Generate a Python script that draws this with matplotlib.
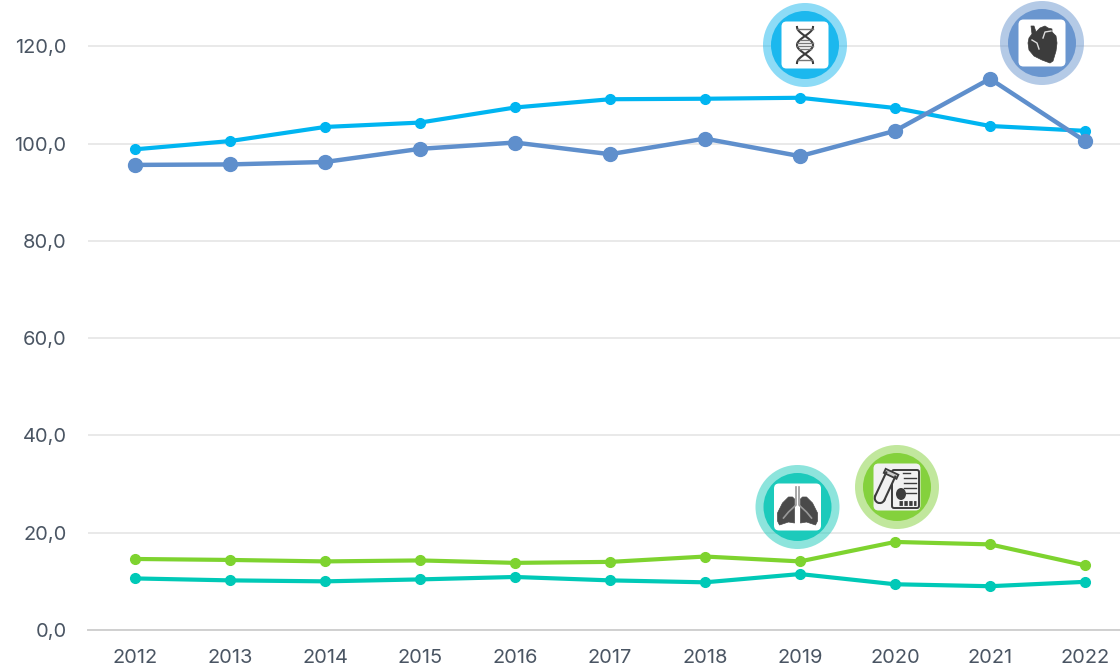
import numpy as np
from matplotlib import pyplot as plt
from matplotlib.patches import Circle, FancyBboxPatch, Polygon, Rectangle, Ellipse
from matplotlib.transforms import Affine2D

plt.rcParams['font.family'] = ['Inter', 'DejaVu Sans']

years = [2012, 2013, 2014, 2015, 2016, 2017, 2018, 2019, 2020, 2021, 2022]
heart = [95.6, 95.7, 96.2, 98.9, 100.2, 97.8, 101.0, 97.4, 102.6, 113.3, 100.5]
cancer = [98.8, 100.5, 103.4, 104.3, 107.4, 109.1, 109.2, 109.4, 107.3, 103.6, 102.6]
diabetes = [14.6, 14.4, 14.1, 14.3, 13.8, 14.0, 15.1, 14.1, 18.1, 17.6, 13.3]
lungs = [10.6, 10.2, 10.0, 10.4, 10.9, 10.2, 9.8, 11.5, 9.4, 9.0, 9.9]
y_ticks = [0, 20, 40, 60, 80, 100, 120]
y_labels = ['0,0', '20,0', '40,0', '60,0', '80,0', '100,0', '120,0']

text_col = '#4a5563'
dark = '#3c3c3c'

fig = plt.figure(figsize=(11.2, 6.7), dpi=100)
ax = fig.add_axes([87.5 / 1120, 40 / 670, 1 - 87.5 / 1120, 630 / 670])

ax.plot(years, cancer, color='#00b5f1', lw=3, marker='o', ms=7, zorder=3)
ax.plot(years, heart, color='#5f8fcc', lw=3.2, marker='o', ms=10, zorder=4)
ax.plot(years, diabetes, color='#7ed32f', lw=3, marker='o', ms=7, zorder=3)
ax.plot(years, lungs, color='#00c9b7', lw=3, marker='o', ms=7, zorder=3)

ax.set_xlim(2012 - 47.5 / 95, 2022 + 35 / 95)
ax.set_ylim(0, 630 / 4.865)
ax.set_xticks(years)
ax.set_yticks(y_ticks)
ax.set_yticklabels(y_labels)
ax.tick_params(length=0, labelsize=14.4, labelcolor=text_col)
ax.tick_params(axis='x', pad=14)
ax.tick_params(axis='y', pad=15)
ax.grid(axis='y', color='#e9e9e9', lw=1.4)
ax.set_axisbelow(True)
for s in ['top', 'right', 'left']:
    ax.spines[s].set_visible(False)
ax.spines['bottom'].set_color('#d0d0d0')
ax.spines['bottom'].set_linewidth(1.4)

# icons sit on a second axes in pixel coords
ic = fig.add_axes([0, 0, 1, 1], zorder=5)
ic.set_xlim(0, 1120)
ic.set_ylim(670, 0)
ic.axis('off')


def badge(cx, cy, col, box='white'):
    ic.add_patch(Circle((cx, cy), 42, fc=col, alpha=0.5, lw=0))
    ic.add_patch(Circle((cx, cy), 34, fc=col, lw=0))
    ic.add_patch(FancyBboxPatch((cx - 20, cy - 20), 40, 40, boxstyle='round,pad=3.5,rounding_size=5',
                                fc=box, lw=0))


def dna(cx, cy):
    t = np.linspace(-18, 18, 60)
    a = 8 * np.sin(t * np.pi / 18 + np.pi / 2)
    ic.plot(cx + a, cy + t, color=dark, lw=1.5)
    ic.plot(cx - a, cy + t, color=dark, lw=1.5)
    for r in [-16, -5, -2, 1, 4, 15]:
        w = abs(8 * np.sin(r * np.pi / 18 + np.pi / 2))
        ic.plot([cx - w, cx + w], [cy + r, cy + r], color='#777777', lw=1)


def heart_icon(cx, cy):
    pts = [(-11, -17), (-8, -17), (-6, -11), (-2, -15), (3, -17), (6, -15), (10, -14), (10, -11),
           (14, -7), (15, 0), (14, 8), (11, 18), (8, 20), (0, 17), (-8, 13), (-13, 7), (-14, 0),
           (-13, -5), (-10, -9)]
    ic.add_patch(Polygon([(cx + x, cy + y) for x, y in pts], fc=dark, lw=0.5, ec=dark, joinstyle='round'))
    ic.plot([cx - 10, cx - 5, cx - 3], [cy - 3, cy, cy + 6], color='#dddddd', lw=1)
    ic.plot([cx + 1, cx + 3, cx + 9], [cy - 5, cy - 11, cy - 12], color='#dddddd', lw=1)


def lungs_icon(cx, cy):
    left = [(-3, -8), (-3, 16), (-9, 15), (-18, 18), (-20, 14), (-20, 6), (-15, -4), (-9, -10), (-5, -10)]
    ic.add_patch(Polygon([(cx + x, cy + y) for x, y in left], fc='#4a4a4a', lw=0.5, ec='#4a4a4a', joinstyle='round'))
    ic.add_patch(Polygon([(cx - x, cy + y) for x, y in left], fc='#4a4a4a', lw=0.5, ec='#4a4a4a', joinstyle='round'))
    ic.plot([cx - 1.5, cx - 1.5, cx - 9, cx - 14], [cy - 20, cy - 2, cy + 5, cy + 11], color='#999999', lw=1.2)
    ic.plot([cx + 1.5, cx + 1.5, cx + 9, cx + 14], [cy - 20, cy - 2, cy + 5, cy + 11], color='#999999', lw=1.2)


def tube_icon(cx, cy):
    ic.add_patch(FancyBboxPatch((cx - 5, cy - 17), 27, 38, boxstyle='round,pad=0,rounding_size=2',
                                fc='none', ec=dark, lw=1.4))
    ic.plot([cx + 6, cx + 13], [cy - 14, cy - 14], color=dark, lw=1)
    for r in [-9, -4, 1, 6]:
        ic.plot([cx + 7, cx + 19], [cy + r, cy + r], color=dark, lw=1)
    ic.plot([cx + 2, cx + 19], [cy + 16, cy + 16], color=dark, lw=3.5, ls=(0, (0.7, 0.3)))
    ic.add_patch(Ellipse((cx + 4, cy + 7), 10, 12, fc=dark, lw=0))
    rot = Affine2D().rotate_deg_around(cx - 13, cy + 2, 25) + ic.transData
    ic.add_patch(Circle((cx - 13, cy + 12), 5, fc='#f1f1f1', ec=dark, lw=1.5, transform=rot))
    ic.add_patch(Rectangle((cx - 18, cy - 14), 10, 26, fc='#f1f1f1', ec='none', transform=rot))
    ic.plot([cx - 18, cx - 18], [cy - 14, cy + 12], color=dark, lw=1.5, transform=rot)
    ic.plot([cx - 8, cx - 8], [cy - 14, cy + 12], color=dark, lw=1.5, transform=rot)
    ic.add_patch(Rectangle((cx - 20, cy - 17), 14, 4.5, fc='#cccccc', ec=dark, lw=1.3, transform=rot))


badge(805, 45, '#1cb8ee')
dna(805, 45)
badge(1042, 43, '#6a96cf')
heart_icon(1042, 43)
badge(797.5, 507, '#1ccabb')
lungs_icon(797.5, 507)
badge(897, 487, '#84d13d', box='#f1f1f1')
tube_icon(897, 487)

fig.savefig('out.png', dpi=100)
